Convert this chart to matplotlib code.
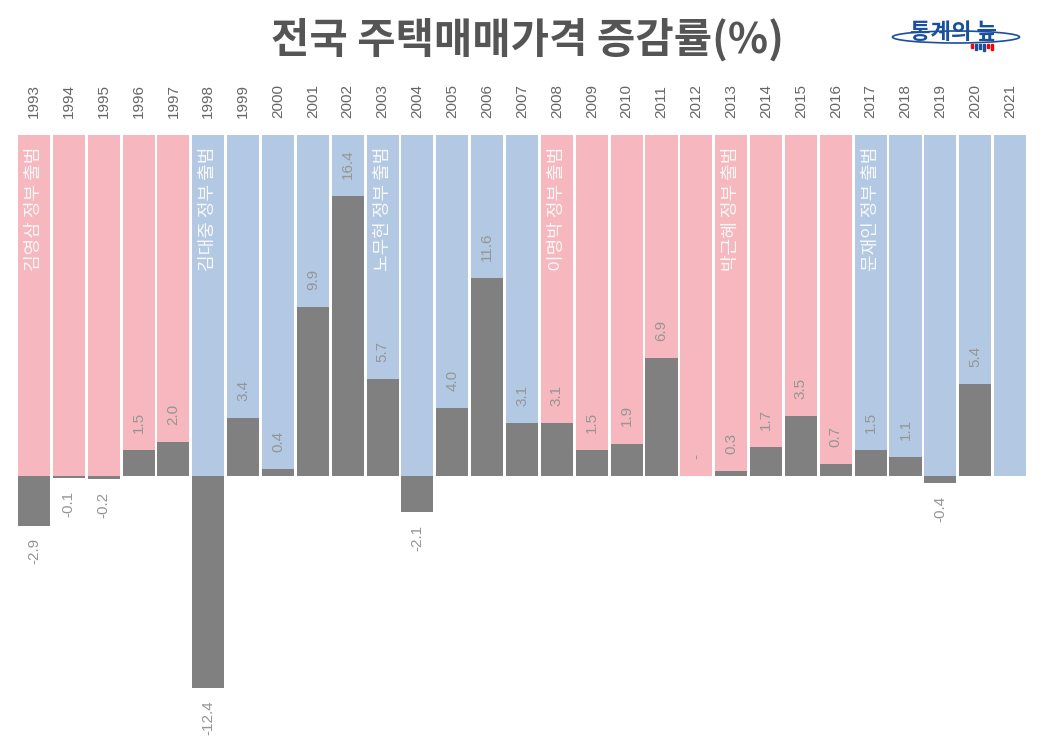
import matplotlib
matplotlib.use("Agg")
import matplotlib.pyplot as plt
from matplotlib.patches import Ellipse, Rectangle

plt.rcParams['font.family'] = ['Noto Sans CJK KR', 'DejaVu Sans']

years = list(range(1993, 2022))
values = [-2.9, -0.1, -0.2, 1.5, 2.0, -12.4, 3.4, 0.4, 9.9, 16.4, 5.7, -2.1, 4.0, 11.6,
          3.1, 3.1, 1.5, 1.9, 6.9, 0.0, 0.3, 1.7, 3.5, 0.7, 1.5, 1.1, -0.4, 5.4, None]
party = ['c'] * 5 + ['l'] * 10 + ['c'] * 9 + ['l'] * 5
gov_years = [1993, 1998, 2003, 2008, 2013, 2017]
gov_labels = ['김영삼 정부 출범', '김대중 정부 출범', '노무현 정부 출범',
              '이명박 정부 출범', '박근혜 정부 출범', '문재인 정부 출범']
bg_height = 20
title = '전국 주택매매가격 증감률(%)'

pink = '#F6B8BE'
blue = '#B3C9E3'
gray = '#808080'
numfont = ['Liberation Sans', 'DejaVu Sans']

W, H = 1046, 744
fig = plt.figure(figsize=(W / 100, H / 100), dpi=100)
ax = fig.add_axes([0, 0, 1, 1])
ax.axis('off')

x0, dx = 34.0, 34.86
y0, dy = 476.0, 17.07
ax.set_xlim(-x0 / dx, (W - x0) / dx)
ax.set_ylim(-(H - y0) / dy, y0 / dy)

xs = list(range(len(years)))
bw = 0.92
ax.bar(xs, [bg_height] * len(xs), width=bw,
       color=[pink if p == 'c' else blue for p in party], zorder=1)
vals = [v if v is not None else 0 for v in values]
ax.bar(xs, vals, width=bw, color=gray, zorder=2)

for i, (yr, v) in enumerate(zip(years, values)):
    ax.text(i, 21.0, str(yr), rotation=90, ha='center', va='bottom',
            fontsize=11, color='#666666', family=numfont)
    if v is None:
        continue
    if v == 0:
        lab = '-'
    else:
        lab = f'{v:.1f}'
    if v >= 0:
        ax.text(i, v + 1.0, lab, rotation=90, ha='center', va='bottom',
                fontsize=11, color='#959595', zorder=3, family=numfont)
    else:
        ax.text(i, v - 0.75, lab, rotation=90, ha='center', va='top',
                fontsize=11, color='#959595', zorder=3, family=numfont)

for gy, gl in zip(gov_years, gov_labels):
    i = years.index(gy)
    ax.text(i, 19.3, gl, rotation=90, ha='center', va='top',
            fontsize=13, fontweight='light', color='#f8f8f8', zorder=3)

fig.text(527 / W, 1 - 40 / H, title, ha='center', va='center',
         fontsize=30, fontweight='heavy', color='#555555')

# logo
lax = fig.add_axes([880 / W, 1 - 65 / H, 150 / W, 50 / H])
lax.set_xlim(0, 150)
lax.set_ylim(50, 0)
lax.axis('off')
lax.add_patch(Ellipse((76, 22), 127, 12, fill=False, edgecolor='#1a4f9c', lw=1.2))
lax.text(74, 17, '통계의 늪', ha='center', va='center', fontsize=16,
         fontweight='heavy', color='#1a4f9c')
bars = [(91, 4, 'red'), (95, 6, '#1a4f9c'), (99, 5, '#1a4f9c'), (103, 7, '#1a4f9c'),
        (107, 4, 'red'), (111, 6, 'red')]
for bx, bh, bc in bars:
    lax.add_patch(Rectangle((bx, 29), 1.5, bh, color=bc))

fig.savefig('out.png', dpi=100, facecolor='white')
